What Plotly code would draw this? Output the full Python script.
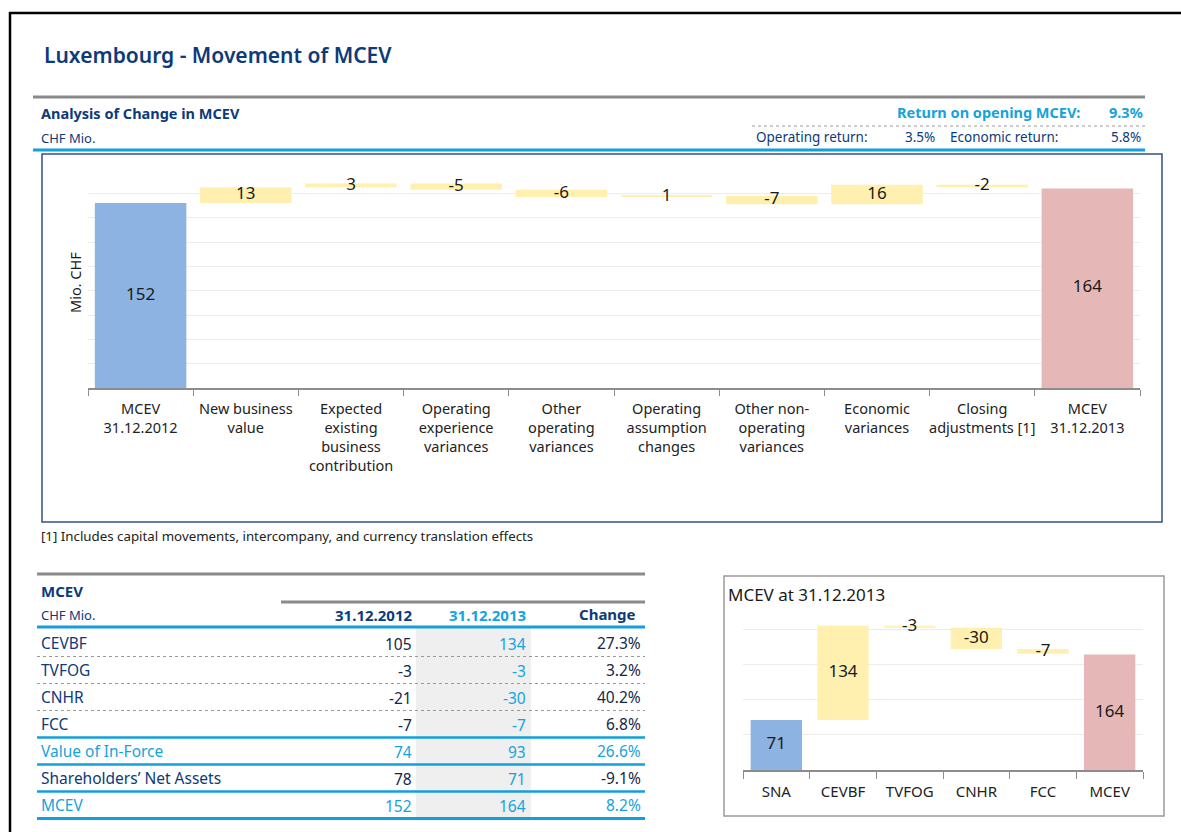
import plotly.graph_objects as go

W, H = 1181, 832

NAVY = "#0d3a7a"
DARKNUM = "#15284a"
CYAN = "#15a3dc"
BLUE_BAR = "#8db3e2"
YEL_BAR = "#fff0b0"
RED_BAR = "#e5b8b7"
GRID = "#ececec"
AXIS = "#8c8c8c"
TXT = "#1a1a1a"
FONT = "Noto Sans"

# ---------------- data ----------------
main_categories = [
    "MCEV<br>31.12.2012", "New business<br>value",
    "Expected<br>existing<br>business<br>contribution",
    "Operating<br>experience<br>variances", "Other<br>operating<br>variances",
    "Operating<br>assumption<br>changes", "Other non-<br>operating<br>variances",
    "Economic<br>variances", "Closing<br>adjustments [1]", "MCEV<br>31.12.2013",
]
main_opening = 152
main_deltas = [13, 3, -5, -6, 1, -7, 16, -2]
main_closing = 164

small_categories = ["SNA", "CEVBF", "TVFOG", "CNHR", "FCC", "MCEV"]
small_opening = 71
small_deltas = [134, -3, -30, -7]
small_closing = 164

table_rows = ["CEVBF", "TVFOG", "CNHR", "FCC", "Value of In-Force",
              "Shareholders’ Net Assets", "MCEV"]
table_2012 = ["105", "-3", "-21", "-7", "74", "78", "152"]
table_2013 = ["134", "-3", "-30", "-7", "93", "71", "164"]
table_change = ["27.3%", "3.2%", "40.2%", "6.8%", "26.6%", "-9.1%", "8.2%"]
table_highlight = [False, False, False, False, True, False, True]
table_separator = ["dot", "dot", "dot", "solid", "solid", "solid", "solid"]

return_total_label = "Return on opening MCEV:"
return_total = "9.3%"
return_operating_label = "Operating return:"
return_operating = "3.5%"
return_economic_label = "Economic return:"
return_economic = "5.8%"


def px(x):
    return x / W


def py(y):
    return 1 - y / H


def waterfall(opening, deltas, closing):
    bases, heights, mids = [0], [opening], [opening / 2]
    run = opening
    for d in deltas:
        bases.append(run)
        heights.append(d)
        mids.append(run + d / 2)
        run += d
    bases.append(0)
    heights.append(closing)
    mids.append(closing / 2)
    colors = [BLUE_BAR] + [YEL_BAR] * len(deltas) + [RED_BAR]
    return bases, heights, mids, colors


fig = go.Figure()

# ---------------- main waterfall ----------------
mb, mh, mm, mc = waterfall(main_opening, main_deltas, main_closing)
fig.add_trace(go.Bar(x=main_categories, y=mh, base=mb, marker=dict(color=mc, line=dict(width=0)),
                     width=0.87, xaxis="x", yaxis="y", showlegend=False, hoverinfo="skip"))
fig.add_trace(go.Scatter(x=main_categories, y=mm, mode="text", text=[str(v) for v in mh],
                         textfont=dict(family=FONT, size=17, color=TXT), textposition="middle center",
                         xaxis="x", yaxis="y", showlegend=False, hoverinfo="skip"))

# ---------------- small waterfall ----------------
sb, sh, sm, sc = waterfall(small_opening, small_deltas, small_closing)
fig.add_trace(go.Bar(x=small_categories, y=sh, base=sb, marker=dict(color=sc, line=dict(width=0)),
                     width=0.77, xaxis="x2", yaxis="y2", showlegend=False, hoverinfo="skip"))
fig.add_trace(go.Scatter(x=small_categories, y=sm, mode="text", text=[str(v) for v in sh],
                         textfont=dict(family=FONT, size=17, color=TXT), textposition="middle center",
                         xaxis="x2", yaxis="y2", showlegend=False, hoverinfo="skip"))

axis_common = dict(type="category", tickson="boundaries", ticks="outside", tickcolor=AXIS,
                   showline=True, linecolor=AXIS, linewidth=2, showgrid=False, zeroline=False,
                   fixedrange=True, tickangle=0)

fig.update_layout(
    width=W, height=H, margin=dict(l=0, r=0, t=0, b=0), autosize=False,
    paper_bgcolor="white", plot_bgcolor="rgba(0,0,0,0)",
    font=dict(family=FONT, color=TXT),
    barmode="overlay",
    xaxis=dict(domain=[px(88), px(1140)], anchor="y", ticklen=6, tickwidth=1, ticklabelstandoff=7,
               range=[-0.5, len(main_categories) - 0.5],
               tickfont=dict(family=FONT, size=14.5, color="#222222"), **axis_common),
    yaxis=dict(domain=[py(388), py(169)], anchor="x", range=[0, 180], dtick=20,
               showticklabels=False, showgrid=True, gridcolor=GRID, gridwidth=1,
               zeroline=False, showline=False, fixedrange=True),
    xaxis2=dict(domain=[px(743), px(1143)], anchor="y2", ticklen=7, tickwidth=1, ticklabelstandoff=7,
                range=[-0.5, len(small_categories) - 0.5],
                tickfont=dict(family=FONT, size=15, color="#222222"), **axis_common),
    yaxis2=dict(domain=[py(770), py(594)], anchor="x2", range=[0, 250], dtick=50,
                showticklabels=False, showgrid=True, gridcolor=GRID, gridwidth=1,
                zeroline=False, showline=False, fixedrange=True),
)

shapes = []
annotations = []


def hline(x0, x1, y, color, width, dash="solid"):
    shapes.append(dict(type="line", xref="paper", yref="paper", x0=px(x0), x1=px(x1),
                       y0=py(y), y1=py(y), line=dict(color=color, width=width, dash=dash)))


def text(s, x, y, size, color, anchor="left", bold=False, **kw):
    annotations.append(dict(text=(f"<b>{s}</b>" if bold else s), xref="paper", yref="paper",
                            x=px(x), y=py(y), xanchor=anchor, yanchor="middle", showarrow=False,
                            font=dict(family=FONT, size=size, color=color), **kw))


# outer frame
hline(9, W, 13, "#000000", 2.5)
shapes.append(dict(type="line", xref="paper", yref="paper", x0=px(10), x1=px(10), y0=py(12), y1=0,
                   line=dict(color="#000000", width=2.5)))

# header
annotations.append(dict(text="Luxembourg - Movement of MCEV", xref="paper", yref="paper",
                        x=px(42), y=py(55), xanchor="left", yanchor="middle", showarrow=False,
                        font=dict(family=FONT, size=21, color=NAVY, weight=600)))
hline(33, 1145, 97, "#8a8a8a", 3)
text("Analysis of Change in MCEV", 39, 113, 14.5, NAVY, bold=True)
text("CHF Mio.", 39, 138, 13, NAVY)
hline(33, 1145, 150, "#12a0dc", 3)
text(return_total_label, 1082, 112, 14.5, CYAN, anchor="right", bold=True)
text(return_total, 1145, 112, 14.5, CYAN, anchor="right", bold=True)
hline(752, 1145, 126, "#9a9a9a", 1, "dot")
text(return_operating_label, 754, 137, 13.5, NAVY)
text(return_operating, 937, 137, 13.5, NAVY, anchor="right")
text(return_economic_label, 948, 137, 13.5, NAVY)
text(return_economic, 1143, 137, 13.5, NAVY, anchor="right")

# main chart box
shapes.append(dict(type="rect", xref="paper", yref="paper", x0=px(42), x1=px(1162), y0=py(522), y1=py(154),
                   line=dict(color="#34507f", width=1.5), fillcolor="rgba(0,0,0,0)"))
annotations.append(dict(text="Mio. CHF", xref="paper", yref="paper", x=px(75), y=py(283), textangle=-90,
                        xanchor="center", yanchor="middle", showarrow=False,
                        font=dict(family=FONT, size=14.5, color=TXT)))
text("[1] Includes capital movements, intercompany, and currency translation effects", 39, 536, 13.3, "#222222")

# small chart box
shapes.append(dict(type="rect", xref="paper", yref="paper", x0=px(724), x1=px(1164), y0=py(816), y1=py(576),
                   line=dict(color="#9a9a9a", width=1.5), fillcolor="rgba(0,0,0,0)"))
text("MCEV at 31.12.2013", 726, 594, 17, TXT, bgcolor="white")

# ---------------- table ----------------
row0 = 643
rstep = 27
col_x_2012, col_x_2013, col_x_chg = 414, 528, 643
shapes.append(dict(type="rect", xref="paper", yref="paper", x0=px(416), x1=px(531),
                   y0=py(row0 - 15 + rstep * len(table_rows)), y1=py(row0 - 15),
                   line=dict(width=0), fillcolor="#efefef", layer="below"))
hline(37, 645, 574, "#8a8a8a", 3)
text("MCEV", 39, 591, 15, NAVY, bold=True)
hline(281, 645, 602, "#8a8a8a", 3)
text("CHF Mio.", 39, 615, 13, NAVY)
text("31.12.2012", col_x_2012, 615, 15, NAVY, anchor="right", bold=True)
text("31.12.2013", col_x_2013, 615, 15, CYAN, anchor="right", bold=True)
text("Change", 638, 614, 15, NAVY, anchor="right", bold=True)
hline(37, 645, 627, "#12a0dc", 3)

for i, (lab, v12, v13, ch, hl, sep) in enumerate(zip(table_rows, table_2012, table_2013, table_change,
                                                    table_highlight, table_separator)):
    y = row0 + i * rstep
    c_lab = CYAN if hl else NAVY
    c_num = CYAN if hl else DARKNUM
    text(lab, 39, y, 15.5, c_lab)
    text(v12, col_x_2012, y + 1, 15.5, c_num, anchor="right")
    text(v13, col_x_2013, y + 1, 15.5, CYAN, anchor="right")
    text(ch, col_x_chg, y, 15.5, c_num, anchor="right")
    ysep = y + 13.5
    if sep == "dot":
        hline(37, 645, ysep, "#9a9a9a", 1, "dot")
    else:
        hline(37, 645, ysep, "#12a0dc", 3 if i == len(table_rows) - 1 else 2.5)

fig.update_layout(shapes=shapes, annotations=annotations)
fig.write_html(
    "out.html",
    config={"displayModeBar": False, "responsive": False},
    post_script="document.documentElement.style.overflow='hidden';document.body.style.overflow='hidden';document.body.style.margin='0';",
)
